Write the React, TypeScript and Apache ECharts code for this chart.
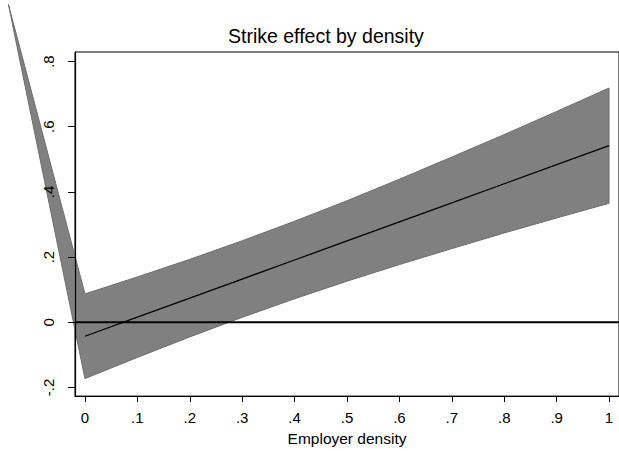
import React, { useEffect, useRef } from "react";
import * as echarts from "echarts";

// Band (confidence interval) — first point is the stray vertex at the top-left
const bandX = [-0.146, 0, 0.1, 0.2, 0.3, 0.4, 0.5, 0.6, 0.7, 0.8, 0.9, 1];
const bandUpper = [0.975, 0.087, 0.139, 0.193, 0.25, 0.31, 0.373, 0.439, 0.507, 0.576, 0.647, 0.719];
const bandLower = [0.975, -0.173, -0.108, -0.045, 0.015, 0.072, 0.126, 0.177, 0.226, 0.274, 0.32, 0.365];

// Point estimate line
const lineX = [0, 0.1, 0.2, 0.3, 0.4, 0.5, 0.6, 0.7, 0.8, 0.9, 1];
const lineY = [-0.043, 0.0155, 0.074, 0.1325, 0.191, 0.2495, 0.308, 0.3665, 0.425, 0.4835, 0.542];

// Ticks
const xTicks = [0, 0.1, 0.2, 0.3, 0.4, 0.5, 0.6, 0.7, 0.8, 0.9, 1];
const yTicks = [-0.2, 0, 0.2, 0.4, 0.6, 0.8];

const X_MIN = -0.019;
const X_MAX = 1.019;
const Y_MIN = -0.2267;
const Y_MAX = 0.8294;

const FONT = "'Liberation Sans', Arial, Helvetica, sans-serif";

const fmt = (v: number) => {
  const r = Math.round(v * 10) / 10;
  if (r === 0) return "0";
  if (r === 1) return "1";
  return String(r).replace("0.", ".");
};

export default function App() {
  const ref = useRef<HTMLDivElement>(null);

  useEffect(() => {
    if (!ref.current) return;
    const chart = echarts.init(ref.current, undefined, { renderer: "svg" });

    const bandData = bandX.map((x, i) => [x, bandUpper[i], bandLower[i]]);

    chart.setOption({
      animation: false,
      backgroundColor: "#ffffff",
      title: {
        text: "Strike effect by density",
        left: 228,
        top: 26,
        padding: 0,
        textStyle: {
          fontFamily: FONT,
          fontSize: 19.5,
          fontWeight: "normal",
          color: "#000000",
        },
      },
      grid: {
        left: 75,
        top: 52,
        width: 546.5,
        height: 348.5,
        show: true,
        borderColor: "#000000",
        borderWidth: 1,
        backgroundColor: "transparent",
      },
      xAxis: {
        type: "value",
        min: X_MIN,
        max: X_MAX,
        z: 10,
        name: "Employer density",
        nameLocation: "middle",
        nameGap: 28,
        nameTextStyle: { fontFamily: FONT, fontSize: 15.5, color: "#000000" },
        axisLine: { show: true, onZero: false, lineStyle: { color: "#000000", width: 1.2 } },
        axisTick: { show: true, length: 6, customValues: xTicks, lineStyle: { color: "#000000", width: 1 } },
        axisLabel: {
          customValues: xTicks,
          formatter: (v: number) => fmt(v),
          margin: 14,
          fontFamily: FONT,
          fontSize: 15,
          color: "#000000",
        },
        splitLine: { show: false },
      },
      yAxis: {
        type: "value",
        min: Y_MIN,
        max: Y_MAX,
        z: 10,
        axisLine: { show: true, onZero: false, lineStyle: { color: "#000000", width: 1.2 } },
        axisTick: { show: true, length: 7, customValues: yTicks, lineStyle: { color: "#000000", width: 1 } },
        axisLabel: {
          customValues: yTicks,
          formatter: (v: number) => fmt(v),
          rotate: 90,
          margin: 19,
          fontFamily: FONT,
          fontSize: 15,
          color: "#000000",
        },
        splitLine: { show: false },
      },
      series: [
        {
          type: "custom",
          clip: false,
          silent: true,
          z: 1,
          data: [bandData[0]],
          encode: { x: 0, y: 1 },
          renderItem: (_params: any, api: any) => {
            const pts: number[][] = [];
            for (let i = 0; i < bandX.length; i++) pts.push(api.coord([bandX[i], bandUpper[i]]));
            for (let i = bandX.length - 1; i >= 0; i--) pts.push(api.coord([bandX[i], bandLower[i]]));
            return {
              type: "polygon",
              shape: { points: pts },
              style: { fill: "#808080", stroke: "#6e6e6e", lineWidth: 1 },
            };
          },
        },
        {
          type: "line",
          z: 3,
          silent: true,
          showSymbol: false,
          data: lineX.map((x, i) => [x, lineY[i]]),
          lineStyle: { color: "#000000", width: 1.3 },
        },
        {
          type: "line",
          z: 4,
          silent: true,
          showSymbol: false,
          data: [
            [X_MIN, 0],
            [X_MAX, 0],
          ],
          lineStyle: { color: "#000000", width: 2 },
        },
      ],
    });

    return () => chart.dispose();
  }, []);

  return (
    <div
      ref={ref}
      style={{ position: "absolute", left: 0, top: 0, width: 619, height: 451, background: "#fff" }}
    />
  );
}
